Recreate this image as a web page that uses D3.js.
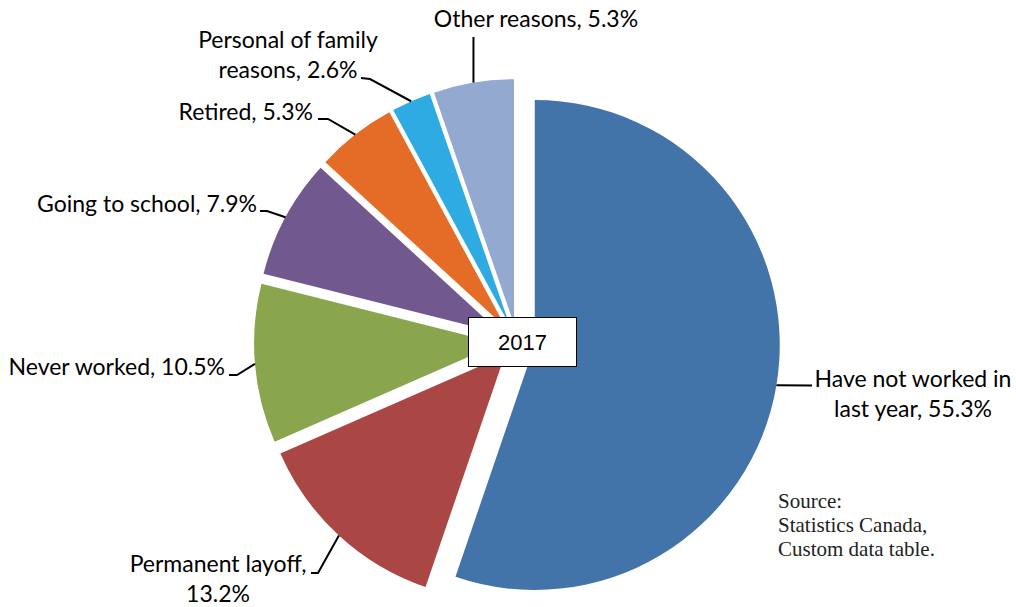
<!DOCTYPE html>
<html>
<head>
<meta charset="utf-8">
<script src="https://cdn.jsdelivr.net/npm/d3@7"></script>
<style>
  html, body { margin: 0; padding: 0; background: #fff; }
  svg { display: block; }
  .lbl { font-family: Lato, "Open Sans", sans-serif; font-size: 23px; fill: #000; }
  .src { font-family: "Liberation Serif", "DejaVu Serif", serif; font-size: 21px; fill: #222; }
</style>
</head>
<body>
<svg id="chart" width="1016" height="607"></svg>
<script>
// Reasons for not looking for work, 2017 (percent of total)
const categories = [
  "Have not worked in last year",
  "Permanent layoff",
  "Never worked",
  "Going to school",
  "Retired",
  "Personal of family reasons",
  "Other reasons"
];
const values = [55.3, 13.2, 10.5, 7.9, 5.3, 2.6, 5.3];
const labelLines = [
  ["Have not worked in", "last year, 55.3%"],
  ["Permanent layoff,", "13.2%"],
  ["Never worked, 10.5%"],
  ["Going to school, 7.9%"],
  ["Retired, 5.3%"],
  ["Personal of family", "reasons, 2.6%"],
  ["Other reasons, 5.3%"]
];
const colors = ["#4374a9", "#aa4643", "#89a54e", "#71588f", "#e46c26", "#2dabe2", "#93a9cf"];
const centerLabel = "2017";
const sourceLines = ["Source:", "Statistics Canada,", "Custom data table."];

// Label placement: text anchor point, alignment and leader route (end, elbow)
const labelLayout = [
  { x: 913, y: 387, anchor: "middle", end: [812, 385.6], elbow: null },
  { x: 218, y: 572, anchor: "middle", end: [311, 573], elbow: [318, 573] },
  { x: 225, y: 375, anchor: "end", end: [229, 375], elbow: [237, 375] },
  { x: 257, y: 212, anchor: "end", end: [260, 211], elbow: [267, 211] },
  { x: 313, y: 120, anchor: "end", end: [318, 119], elbow: [328, 119] },
  { x: 288, y: 48, anchor: "middle", end: [361, 78], elbow: [370, 79] },
  { x: 536, y: 27, anchor: "middle", end: [473.4, 37], elbow: null }
];

const svg = d3.select("#chart");
const cx = 517, cy = 342, radius = 245, explode = 18, lineGap = 30;

const pie = d3.pie().sort(null).value(d => d.value);
const arcs = pie(categories.map((c, i) => ({ name: c, value: values[i], i })));
const arc = d3.arc().innerRadius(0).outerRadius(radius);

const g = svg.append("g").attr("transform", `translate(${cx},${cy})`);

function offset(a) {
  const mid = (a.startAngle + a.endAngle) / 2;
  return [Math.sin(mid) * explode, -Math.cos(mid) * explode];
}

g.selectAll("path.slice")
  .data(arcs)
  .join("path")
  .attr("class", "slice")
  .attr("d", arc)
  .attr("fill", d => colors[d.data.i])
  .attr("transform", d => `translate(${offset(d)})`);

// Leader lines from the outer arc at each slice's mid angle
arcs.forEach(a => {
  const i = a.data.i;
  const mid = (a.startAngle + a.endAngle) / 2;
  const [ox, oy] = offset(a);
  const px = cx + ox + Math.sin(mid) * radius;
  const py = cy + oy - Math.cos(mid) * radius;
  const L = labelLayout[i];
  const pts = [[px, py]];
  if (L.elbow) pts.push(L.elbow);
  if (i === 6) pts.push([px, L.end[1]]); else pts.push(L.end);
  svg.append("path")
    .attr("d", d3.line()(pts))
    .attr("fill", "none")
    .attr("stroke", "#000")
    .attr("stroke-width", 2);

  const t = svg.append("text")
    .attr("class", "lbl")
    .attr("text-anchor", L.anchor);
  labelLines[i].forEach((ln, k) => {
    t.append("tspan").attr("x", L.x).attr("y", L.y + k * lineGap).text(ln);
  });
});

// Center year box
svg.append("rect")
  .attr("x", 468.5).attr("y", 317.5).attr("width", 108).attr("height", 49)
  .attr("fill", "#fff").attr("stroke", "#000").attr("stroke-width", 1);
svg.append("text")
  .attr("x", 522.5).attr("y", 350)
  .attr("text-anchor", "middle")
  .style("font-family", "'Liberation Sans', Arial, sans-serif")
  .style("font-size", "22px")
  .text(centerLabel);

// Source note
const s = svg.append("text").attr("class", "src");
sourceLines.forEach((ln, k) => {
  s.append("tspan").attr("x", 778).attr("y", 508 + k * 24).text(ln);
});
</script>
</body>
</html>
